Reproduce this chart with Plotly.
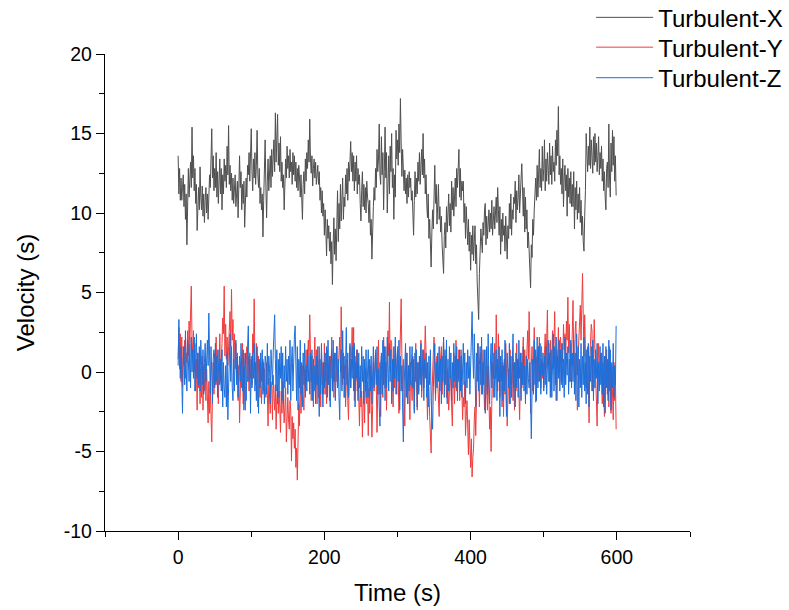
import plotly.graph_objects as go

# Readings taken every 1 s from the picture
SAMPLE_STEP_S = 1

turb_x = [
    13.6, 11.2, 12.8, 10.8, 12.2, 10.8, 11.6, 12.4, 10.4, 11.8, 9.6, 11.2, 8.0, 10.6, 12.8, 11.0, 12.4, 13.2, 11.6, 15.4,
    12.2, 13.6, 11.4, 12.8, 10.6, 11.8, 8.9, 10.4, 11.6, 10.2, 12.9, 11.0, 10.2, 11.7, 9.8, 11.2, 9.4, 10.8, 11.6, 10.0,
    11.2, 9.6, 11.0, 12.4, 11.6, 13.8, 15.3, 12.2, 13.6, 11.4, 12.8, 11.6, 13.8, 11.0, 12.6, 10.6, 12.2, 13.4, 11.2, 12.8,
    10.2, 12.4, 11.2, 13.4, 12.0, 13.0, 11.6, 14.2, 12.4, 15.5, 11.8, 13.0, 11.4, 12.5, 10.8, 12.2, 10.6, 11.8, 12.4, 10.4,
    11.2, 12.0, 9.7, 11.4, 13.6, 11.6, 12.6, 10.2, 11.8, 10.6, 12.0, 9.1, 11.4, 12.2, 11.0, 13.0, 12.4, 13.8, 12.0, 14.2,
    15.3, 12.6, 11.4, 13.4, 12.2, 13.8, 11.8, 13.0, 15.2, 12.4, 11.6, 12.8, 10.6, 11.6, 10.2, 11.2, 8.5, 10.8, 12.4, 14.6,
    11.6, 9.7, 12.0, 13.4, 11.4, 12.8, 13.6, 11.6, 14.0, 12.3, 13.6, 14.6, 12.6, 16.3, 13.2, 14.8, 16.2, 13.0, 14.4, 12.6,
    14.8, 12.0, 13.2, 11.6, 12.4, 10.2, 12.6, 13.4, 12.2, 14.2, 12.8, 13.6, 12.2, 14.0, 12.6, 13.2, 11.8, 13.8, 12.4, 13.6,
    12.0, 13.2, 11.6, 12.8, 11.4, 13.0, 12.2, 11.0, 12.4, 10.6, 9.6, 11.8, 12.6, 11.2, 13.4, 12.0, 13.8, 12.8, 14.6, 13.2,
    15.9, 13.4, 12.5, 13.6, 11.7, 12.8, 13.4, 12.2, 13.2, 11.8, 12.6, 13.0, 11.8, 12.6, 10.8, 11.6, 10.0, 11.4, 9.8, 10.6,
    8.6, 10.2, 9.0, 7.3, 9.6, 8.4, 9.2, 7.6, 8.8, 6.8, 8.2, 5.5, 8.0, 9.7, 7.4, 9.0, 7.0, 10.4, 11.4, 8.2,
    10.6, 9.0, 11.8, 9.5, 10.8, 12.2, 9.6, 11.0, 10.4, 12.4, 11.2, 12.8, 10.8, 13.2, 12.0, 13.6, 14.5, 12.6, 13.8, 12.0,
    13.6, 11.4, 13.2, 12.0, 13.6, 11.2, 12.8, 11.8, 12.4, 10.6, 9.5, 11.4, 12.6, 10.4, 11.8, 10.2, 11.6, 10.0, 12.0, 11.0,
    10.6, 9.4, 10.8, 8.6, 9.6, 7.1, 9.4, 10.4, 11.6, 10.8, 12.8, 11.6, 14.0, 12.6, 13.4, 15.6, 12.4, 11.8, 14.8, 12.4,
    13.8, 10.2, 12.6, 15.4, 12.2, 13.8, 10.0, 12.4, 13.6, 11.2, 14.2, 12.6, 15.0, 11.6, 12.8, 9.6, 12.4, 11.0, 15.2, 13.4,
    14.6, 13.0, 15.6, 13.8, 17.2, 14.4, 12.3, 14.0, 12.8, 11.4, 12.7, 11.2, 12.2, 10.6, 12.4, 11.0, 12.6, 11.6, 12.2, 10.8,
    11.4, 10.2, 8.6, 10.8, 12.6, 11.0, 12.2, 11.2, 13.2, 12.0, 13.8, 11.8, 12.6, 14.0, 12.4, 15.0, 12.2, 13.4, 11.2, 12.4,
    10.6, 9.7, 11.2, 8.4, 9.6, 7.8, 6.6, 8.8, 10.2, 9.0, 11.4, 13.0, 10.6, 11.8, 9.3, 10.8, 11.8, 9.6, 10.4, 8.8,
    9.8, 8.0, 7.4, 6.2, 8.6, 9.4, 7.8, 10.4, 8.8, 9.6, 11.2, 9.2, 10.6, 8.8, 12.0, 10.2, 11.6, 9.8, 11.0, 12.2,
    10.4, 12.8, 11.6, 13.2, 14.0, 11.0, 12.8, 10.8, 12.0, 11.4, 12.0, 9.4, 10.6, 8.4, 10.4, 9.2, 8.0, 9.6, 7.6, 8.8,
    6.4, 8.6, 7.4, 9.2, 7.0, 8.2, 9.2, 6.8, 8.0, 5.6, 4.4, 3.3, 6.2, 7.2, 9.0, 8.2, 7.5, 9.4, 8.6, 10.2,
    10.6, 8.0, 9.8, 8.4, 9.2, 10.2, 8.8, 10.0, 9.0, 10.8, 8.6, 9.4, 10.4, 9.0, 10.2, 11.0, 9.4, 11.6, 10.2, 8.6,
    10.4, 7.4, 9.6, 8.2, 10.0, 8.6, 9.2, 7.6, 9.8, 8.0, 7.1, 9.2, 8.4, 10.6, 9.0, 11.2, 8.6, 10.2, 9.6, 11.0,
    10.6, 12.0, 9.4, 11.4, 10.2, 11.0, 12.4, 10.0, 11.6, 12.2, 13.1, 10.4, 9.8, 11.6, 8.8, 11.0, 9.0, 10.2, 7.8, 8.8,
    7.2, 6.4, 5.3, 8.0, 7.2, 9.6, 8.6, 10.2, 11.4, 12.2, 10.8, 13.0, 11.0, 12.6, 14.0, 11.6, 12.8, 11.4, 14.2, 12.0,
    12.8, 14.6, 11.4, 13.4, 12.0, 13.8, 12.6, 11.8, 14.4, 12.4, 13.6, 11.8, 14.2, 12.6, 13.2, 12.0, 14.6, 13.0, 15.2, 13.6,
    16.7, 12.4, 13.6, 11.8, 12.8, 11.2, 13.4, 10.4, 12.2, 13.0, 11.4, 12.4, 9.8, 12.8, 11.0, 12.2, 10.6, 12.6, 10.4, 11.8,
    10.4, 12.6, 9.0, 11.6, 10.2, 12.0, 9.6, 11.2, 10.0, 11.6, 9.4, 10.8, 8.6, 9.8, 8.2, 7.6, 9.8, 11.4, 15.0, 13.2,
    12.6, 14.2, 13.0, 15.4, 12.8, 14.6, 13.4, 12.5, 14.8, 13.0, 15.0, 13.2, 14.4, 12.6, 13.6, 14.8, 12.4, 13.8, 12.8, 14.2,
    12.0, 13.4, 11.4, 12.6, 11.0, 10.2, 12.8, 13.2, 11.6, 15.6, 12.2, 11.0, 14.4, 12.6, 15.2, 13.0, 14.8, 12.0, 13.6, 11.1,
]

turb_y = [
    0.8, 2.8, 0.2, 2.4, -0.6, 2.2, -0.9, 1.6, 0.4, 2.0, -0.4, 1.2, 0.6, 2.6, 1.0, 3.2, 1.8, 4.2, 5.4, 2.0,
    1.2, 2.6, 0.0, 1.8, -1.2, 0.8, -2.4, 1.2, -1.0, 0.8, -2.0, 0.2, -1.6, 1.0, -2.4, 0.4, -1.2, 0.6, -1.8, 0.2,
    -1.4, -3.2, -0.6, -2.6, -1.0, -3.6, -4.4, -1.2, 0.6, -1.4, 1.2, -0.8, 2.2, -0.8, 1.4, -2.0, 0.8, 2.4, -0.6, 1.6,
    1.8, 3.4, 2.4, 5.4, 1.0, 3.0, 0.8, 2.2, 0.4, 1.6, 2.4, 3.8, 1.6, 5.2, 2.0, 3.3, 0.6, 2.4, 0.2, 1.8,
    -0.4, 1.2, -1.8, 0.4, -3.2, -1.0, 0.6, -1.0, 1.8, -2.0, 1.2, -1.4, -2.4, 0.4, 1.6, -0.6, 1.0, -1.2, 0.8, -0.4,
    1.0, -0.8, 2.4, 1.2, 4.6, 0.6, -0.8, 1.8, -1.0, -2.2, 1.0, -0.6, -1.6, 0.6, -2.0, -0.4, 0.8, -1.2, 0.2, -0.8,
    -1.6, 0.6, -1.2, -3.4, -0.4, -1.8, -2.6, -0.6, -1.0, -3.0, -0.2, -1.4, -2.4, -0.8, -3.6, -1.6, -0.8, -2.6, -1.2, -2.2,
    -3.8, -1.2, -2.6, -0.6, -1.8, -3.2, -2.2, -1.0, -4.4, -2.4, -1.6, -3.0, -3.6, -1.8, -2.4, -5.6, -2.8, -4.2, -3.2, -4.8,
    -3.6, -6.0, -4.8, -6.8, -4.4, -2.0, -3.4, 0.6, -2.6, -0.8, 0.4, -1.4, -2.4, 0.2, -1.0, 1.4, -0.6, 0.8, 2.0, 1.0,
    3.6, 1.2, -1.8, 1.0, -0.6, -2.2, 0.8, 2.2, -1.0, 1.4, -2.0, 0.8, -1.6, 1.6, -0.4, -2.2, 1.2, -0.8, 0.6, -1.4,
    1.8, -1.4, 0.6, -2.0, 1.4, -0.8, 0.4, -1.8, 1.0, -0.4, 2.2, -1.2, 0.8, -1.6, 0.2, 1.2, -0.6, 1.6, -1.0, 0.4,
    1.4, 2.2, 0.0, 4.1, 1.0, -0.8, 1.2, -1.6, 0.4, -2.2, -0.6, 0.8, -1.8, -3.0, -0.4, 1.6, -1.0, 0.6, 2.8, 0.2,
    2.8, -1.8, 1.0, -0.6, 1.4, -1.2, 0.4, -1.6, -3.4, -0.6, -2.2, -1.2, -4.1, -2.0, -1.2, -3.2, 0.2, -1.6, -2.0, -0.6,
    -4.0, -1.0, -2.6, 0.4, -1.8, -4.1, -2.2, 0.6, -1.2, 1.4, 1.4, -0.8, -3.8, -1.2, 2.0, -1.4, 0.6, -2.8, 1.0, -0.6,
    -1.6, 2.2, 0.4, -1.0, 1.6, -2.4, 0.8, 2.6, 1.0, 4.4, 0.0, 2.0, 1.8, -0.6, -2.2, 0.8, -1.0, 1.6, 0.2, -1.4,
    1.6, -0.6, -2.6, 0.4, 2.0, 4.6, 1.0, -1.2, 0.8, -1.8, -3.4, 0.4, 1.2, -1.2, -2.0, 0.4, -0.8, -3.0, 0.6, -1.2,
    -1.8, 1.0, -0.6, -2.4, 0.8, 1.8, -0.8, -2.4, 0.6, -1.2, 1.0, -0.4, 2.0, -1.6, 0.4, 1.4, -1.0, 0.6, 2.9, 1.2,
    -1.0, -3.0, -0.6, -1.0, -2.8, -4.2, -5.1, -1.6, 0.4, 1.2, 2.2, -0.6, -1.8, 0.6, 1.0, -0.6, -1.4, -2.8, 0.2, 1.4,
    1.6, -1.4, 0.4, 2.2, -0.8, 0.6, 1.0, -1.6, 0.2, -0.8, -2.4, -1.2, 0.4, -1.0, -2.2, -3.4, -0.8, 1.2, -2.0, 0.6,
    2.0, -1.2, 0.8, -0.4, 1.4, -1.8, 0.6, 1.4, -1.0, -3.0, -1.6, -2.2, -0.6, -4.0, -2.8, -1.8, -3.4, -5.2, -3.0, -4.4,
    -6.0, -4.2, -6.6, -5.4, -4.8, -3.0, -2.2, -4.0, -1.0, 0.4, 1.8, -0.6, -2.2, 0.2, 1.2, -1.4, -0.6, 1.4, -0.8, -2.4,
    -0.8, 1.4, -1.2, -2.4, 0.4, -1.2, -3.6, -2.2, -5.0, -1.8, 0.6, -1.6, 0.8, 1.8, -0.4, 3.6, 1.0, -1.2, 2.4, 0.2,
    -1.6, 1.0, -0.4, -2.2, 0.6, -2.8, 0.8, -1.4, 1.8, 0.2, -3.4, -0.8, 0.2, -2.0, 1.4, -0.6, -0.8, 1.0, -1.8, -0.2,
    -2.4, 0.6, -1.2, 1.8, -0.4, 0.8, -1.6, -3.0, -0.6, 1.2, -1.0, 0.4, 2.2, -0.8, 1.4, -1.4, 0.6, 1.8, 2.6, 0.8,
    3.8, 1.0, -2.6, 0.4, 1.6, -1.2, 0.6, 2.8, 0.4, -1.9, 0.8, 1.0, -0.6, 1.6, 2.2, 0.4, -1.0, 1.6, -0.4, 0.6,
    -1.0, 1.2, 2.4, 0.2, 3.0, 3.9, 0.4, 1.8, -0.6, 2.0, -1.2, 1.4, 2.6, 0.2, 1.6, 3.8, 0.6, -1.8, 1.4, 0.6,
    2.8, 0.0, 1.8, 2.2, -0.8, 1.8, 0.6, 3.0, 1.4, 2.4, 0.4, 3.2, 2.0, 4.7, 1.2, 3.0, -0.6, 1.8, 0.4, 2.2,
    4.5, 1.2, -0.4, 2.6, 3.2, 0.6, -2.4, 1.0, 2.2, 3.4, 4.2, 2.0, 5.0, 6.2, 3.6, 1.0, 3.6, 2.0, -1.0, 1.2,
    1.6, -0.6, -3.2, 0.8, 2.2, 3.0, 2.6, -1.2, 0.8, 3.3, 1.4, -0.6, -1.8, -3.4, 0.4, 1.8, -0.8, 0.6, 1.2, -0.4,
    -2.0, 0.6, -1.4, -2.8, 1.0, -0.4, 1.4, -1.4, 0.6, -2.2, 1.6, -0.8, -2.6, 0.4, -1.2, -3.0, 0.6, -1.8, -0.4, -3.6,
]

turb_z = [
    0.4, 3.3, 1.0, -0.4, 1.6, -1.2, -2.6, 0.8, 1.6, -0.8, 2.6, 0.2, -1.2, 2.0, 0.4, -0.6, 1.8, -1.0, 2.2, 0.0,
    1.4, -0.4, 2.2, -1.2, 0.6, 2.4, -0.4, 1.2, -0.8, 1.6, -1.2, 2.0, 0.4, -0.8, 1.4, -1.4, 0.6, 1.8, -0.6, 1.0,
    2.0, 0.4, 3.7, 1.0, -1.4, 1.6, -0.6, -2.0, 0.8, 1.4, -1.0, 1.8, -0.6, 1.0, -1.6, 0.6, 1.4, -0.8, 0.8, -1.2,
    1.4, -2.2, 0.6, -1.0, -1.6, 0.4, -2.2, 1.2, -3.0, -1.0, 0.8, 2.4, -0.6, 1.6, -1.0, -1.8, 0.8, -1.2, 1.2, 2.0,
    -0.8, 1.0, -1.6, 0.6, 1.0, -0.6, 1.8, 0.2, -1.2, 1.4, -2.4, 0.4, 1.2, -1.8, 0.6, 1.6, 2.9, -0.6, 1.2, -2.6,
    0.8, -1.0, 1.2, -0.4, 1.8, -1.2, 0.6, -1.8, 1.6, -0.4, -2.6, 0.8, -1.0, 1.2, -0.6, 1.4, -1.4, 0.6, -2.0, 1.0,
    0.6, -1.4, 1.8, -0.8, 1.0, 0.2, -2.0, 1.4, 0.4, -0.8, 1.2, 2.2, 3.6, 0.8, -1.2, 1.4, -2.0, 0.8, -1.6, 1.2,
    -0.4, 1.6, -1.8, 1.2, -2.0, 0.4, -1.0, 1.6, -0.6, 0.8, -1.4, 1.0, -0.8, 2.0, -1.8, 0.6, 1.6, -1.2, 1.4, 2.2,
    2.9, -0.6, -1.8, 1.6, -2.4, 0.8, -1.0, 2.0, -1.4, 0.6, -2.2, 1.2, -0.8, 1.8, -1.6, 0.4, -1.2, 1.4, -0.6, 1.0,
    -1.4, 1.2, -0.6, 1.4, -1.8, 0.8, -1.2, 0.4, -2.0, 1.0, -0.8, 1.6, -1.4, -2.8, 0.8, -1.4, 1.8, -0.4, -2.2, 0.6,
    -1.0, 1.2, -0.6, 1.6, -1.6, 2.0, -0.8, 1.0, -2.2, 0.6, 1.4, -1.2, 2.0, -0.6, 1.2, -1.8, 0.4, 1.6, -1.0, 0.8,
    -1.6, -3.0, 0.4, 1.4, -1.2, 2.6, -0.4, 1.0, -1.6, 0.6, 2.8, -0.8, 1.2, -1.6, 0.6, 1.8, -1.0, 0.8, -0.4, 1.6,
    -1.2, 1.8, -2.2, 0.6, -0.4, 1.4, -1.8, 1.2, -1.0, 0.4, -1.6, 1.6, -0.6, 1.0, -2.0, 0.8, -1.2, 1.4, -1.6, 0.6,
    1.4, -1.6, 0.8, -1.2, 1.0, -2.0, 0.6, 1.6, -1.0, 0.4, 1.2, -0.8, 1.6, -1.4, 0.2, -2.2, -3.4, 0.4, 1.2, -1.4,
    2.0, -0.8, 1.6, -1.8, 0.6, -1.0, 2.2, 0.4, -1.2, 1.8, -0.6, 1.4, -2.0, 0.8, -1.2, 1.6, -0.4, 2.2, -1.4, 0.6,
    1.4, -0.6, 2.0, -2.4, 1.0, -1.2, 0.4, -2.2, -4.4, -1.0, 0.6, 1.8, -1.6, 1.2, -2.0, 0.4, -1.2, 1.6, -0.8, 1.0,
    1.6, -1.0, 0.8, -2.6, 1.2, -0.6, 1.4, -2.2, 0.6, -1.4, 1.0, -0.8, 1.8, -1.2, 0.4, 1.4, -1.8, 0.8, -0.4, 1.2,
    -1.6, 0.6, -2.2, 1.0, -0.8, 1.4, -1.8, -2.6, -3.6, -1.0, 0.4, 1.8, -1.4, 0.6, -1.0, 1.2, -0.6, 1.6, -1.2, 0.8,
    -2.0, 1.0, -0.6, 2.2, -1.6, 1.4, -0.8, 2.0, -2.0, 0.8, -1.2, 1.6, -0.4, 1.2, -1.8, 0.6, -1.0, 1.8, -0.6, 1.0,
    -1.0, 1.6, -1.8, 0.8, -0.6, 1.4, -1.2, 1.0, -1.6, 0.4, 1.8, -0.8, 1.2, -2.0, 0.6, -1.0, 1.4, -0.4, 1.0, -1.4,
    0.8, 2.6, 3.8, 1.2, -0.4, 2.4, 0.6, -2.2, 1.2, -0.6, 1.8, -1.2, 0.4, 1.6, -0.8, 2.2, -1.4, 0.6, -0.8, 1.4,
    -2.6, 0.8, 1.6, -1.4, 2.4, -0.6, -2.0, 0.4, 1.8, -1.0, 2.2, -0.4, 1.2, -1.6, 0.6, 1.4, -1.8, 0.8, -0.6, 1.6,
    -2.8, 1.0, -0.6, 1.4, -1.8, 0.4, -1.2, 2.0, -0.6, -2.8, 1.2, 0.2, -1.0, 1.8, -2.0, 1.0, -1.6, 0.6, 2.4, -1.0,
    0.6, -2.2, 1.2, -1.0, 0.8, -1.6, 2.0, -0.4, 1.2, -1.8, 0.6, -0.8, 1.6, -1.2, 0.4, -2.0, 1.0, -1.4, 0.8, -0.4,
    -1.0, 0.6, -2.6, -4.2, -1.2, 0.8, -1.4, 2.0, -0.8, 1.4, -1.8, 2.2, -1.0, 1.6, -0.6, 1.8, -1.4, 0.8, -0.2, 1.2,
    -1.2, 1.0, -0.8, 1.6, -1.4, 0.6, 2.0, -0.6, 1.2, -1.6, 1.4, -1.6, 0.6, 2.4, -1.2, 1.6, -0.8, 2.2, -1.8, 1.0,
    -0.4, 2.0, -1.2, 1.4, -0.6, 1.8, -1.0, 0.8, -1.6, 2.2, -0.8, 1.2, -0.2, 1.6, -1.4, 0.8, -0.6, 2.0, -1.0, 1.2,
    -0.6, 2.0, -1.4, 1.2, -1.8, 2.4, -0.2, 1.6, -2.2, 0.8, -1.0, 1.8, -1.6, 1.0, -0.8, 2.2, -1.2, 0.6, -2.0, 1.4,
    -1.4, 1.8, -2.2, 1.0, -0.6, 1.6, -1.2, 2.0, -1.8, 0.8, -1.0, 1.4, -0.4, 1.8, -2.0, 0.6, -1.2, 1.6, -0.8, 1.2,
    -1.4, 1.8, -2.2, 1.0, -2.6, 1.6, -1.0, 0.8, -1.8, 2.0, -1.2, 1.4, -2.4, 0.6, -1.0, 1.8, -1.6, 0.4, -0.8, 2.9,
]

series_names = ["Turbulent-X", "Turbulent-Y", "Turbulent-Z"]
series_colors = ["#4f4f4f", "#f03c3c", "#1c6edb"]
series_values = [turb_x, turb_y, turb_z]
legend_ids = ["legend", "legend2", "legend3"]
legend_rows_y = [1.076, 1.0135, 0.9495]  # paper y of each legend row

x_ticks = [0, 200, 400, 600]
x_tick_labels = ["0", "200", "400", "600"]
y_ticks = [-10, -5, 0, 5, 10, 15, 20]
y_tick_labels = ["-10", "-5", "0", "5", "10", "15", "20"]

FONT = "Liberation Sans, Arial, sans-serif"

fig = go.Figure()
for name, color, vals, lg in zip(series_names, series_colors, series_values, legend_ids):
    times = [SAMPLE_STEP_S * i for i in range(len(vals))]
    fig.add_trace(go.Scatter(
        x=times, y=vals, mode="lines", name=name,
        line=dict(color=color, width=1), legend=lg,
    ))

axis_common = dict(
    showline=True, linecolor="black", linewidth=1.3,
    ticks="outside", ticklen=8, tickwidth=1.3, tickcolor="black",
    showgrid=False, zeroline=False, mirror=False,
    tickfont=dict(family=FONT, size=19.5, color="black"),
)

legend_common = dict(
    x=0.831, xanchor="left", yanchor="middle",
    bgcolor="rgba(0,0,0,0)", borderwidth=0,
    font=dict(family=FONT, size=24, color="black"),
    itemwidth=57,
)

fig.update_layout(
    width=789, height=610,
    margin=dict(l=105, r=99, t=54, b=79, autoexpand=False),
    paper_bgcolor="white", plot_bgcolor="white",
    font=dict(family=FONT, color="black"),
    xaxis=dict(
        range=[-100, 700], tickvals=x_ticks, ticktext=x_tick_labels,
        title=dict(text="Time (s)", font=dict(family=FONT, size=24, color="black"), standoff=17),
        minor=dict(dtick=100, tick0=0, ticks="outside", ticklen=5, tickwidth=1.3, tickcolor="black"),
        **axis_common,
    ),
    yaxis=dict(
        range=[-10, 20], tickvals=y_ticks, ticktext=y_tick_labels,
        title=dict(text="Velocity (s)", font=dict(family=FONT, size=24, color="black"), standoff=22),
        minor=dict(dtick=2.5, tick0=0, ticks="outside", ticklen=5, tickwidth=1.3, tickcolor="black"),
        **axis_common,
    ),
    legend=dict(y=legend_rows_y[0], **legend_common),
    legend2=dict(y=legend_rows_y[1], **legend_common),
    legend3=dict(y=legend_rows_y[2], **legend_common),
    showlegend=True,
)

fig.write_html("out.html")
